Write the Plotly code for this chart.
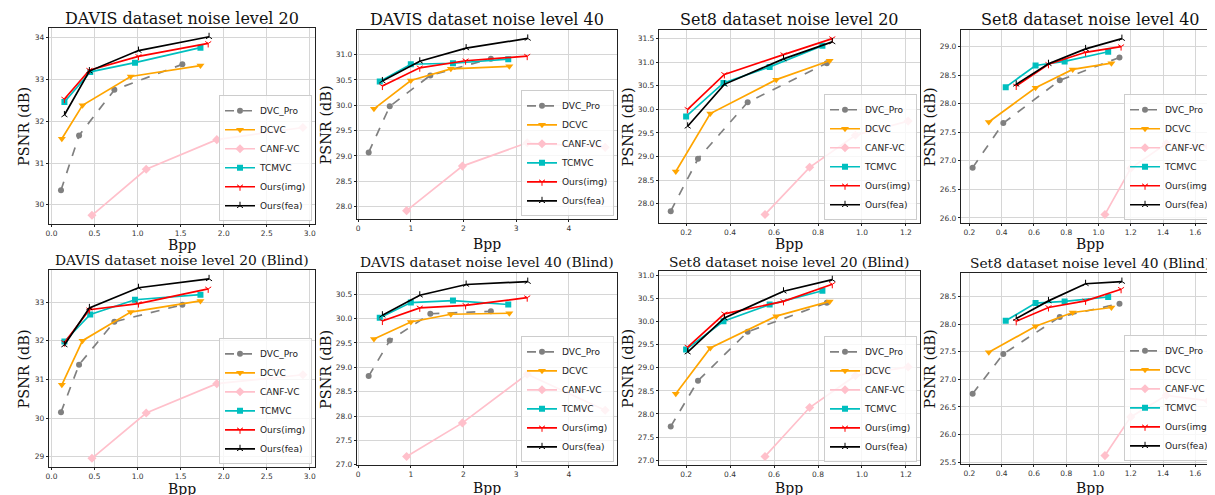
import plotly.graph_objects as go

METHODS = ["DVC_Pro", "DCVC", "CANF-VC", "TCMVC", "Ours(img)", "Ours(fea)"]

# Bpp values, one row per method (order as METHODS)
DAVIS20_BPP = [
    [0.11, 0.32, 0.73, 1.52],
    [0.12, 0.36, 0.92, 1.73],
    [0.47, 1.10, 1.92, 2.92],
    [0.15, 0.45, 0.97, 1.73],
    [0.15, 0.44, 1.01, 1.82],
    [0.15, 0.44, 1.01, 1.83],
]
DAVIS40_BPP = [
    [0.20, 0.60, 1.37, 2.52],
    [0.30, 1.00, 1.76, 2.87],
    [0.92, 1.98, 3.21, 4.69],
    [0.41, 1.00, 1.80, 2.85],
    [0.46, 1.17, 2.04, 3.21],
    [0.46, 1.17, 2.05, 3.22],
]
SET8_20_BPP = [
    [0.13, 0.254, 0.48, 0.84],
    [0.153, 0.31, 0.61, 0.853],
    [0.559, 0.762, 0.97, 1.21],
    [0.20, 0.37, 0.58, 0.82],
    [0.207, 0.374, 0.643, 0.865],
    [0.207, 0.374, 0.643, 0.865],
]
SET8_40_BPP = [
    [0.22, 0.41, 0.76, 1.13],
    [0.32, 0.61, 0.84, 1.08],
    [1.04, 1.20, 1.42, 1.68],
    [0.425, 0.61, 0.79, 1.06],
    [0.49, 0.69, 0.92, 1.14],
    [0.49, 0.69, 0.92, 1.145],
]

# PSNR values, one row per method
DAVIS20_PSNR = [
    [30.35, 31.66, 32.75, 33.36],
    [31.58, 32.38, 33.07, 33.33],
    [29.75, 30.85, 31.56, 31.85],
    [32.46, 33.18, 33.40, 33.76],
    [32.53, 33.22, 33.55, 33.86],
    [32.15, 33.20, 33.69, 34.02],
]
DAVIS40_PSNR = [
    [29.07, 29.98, 30.59, 30.92],
    [29.93, 30.49, 30.72, 30.77],
    [27.92, 28.80, 29.26, 29.17],
    [30.47, 30.81, 30.83, 30.91],
    [30.38, 30.74, 30.88, 30.97],
    [30.48, 30.87, 31.13, 31.32],
]
SET8_20_PSNR = [
    [27.84, 28.95, 30.15, 30.98],
    [28.68, 29.91, 30.63, 31.03],
    [27.77, 28.77, 29.45, 29.75],
    [29.85, 30.56, 30.90, 31.35],
    [30.00, 30.74, 31.16, 31.50],
    [29.64, 30.53, 31.07, 31.43],
]
SET8_40_PSNR = [
    [26.88, 27.66, 28.41, 28.81],
    [27.68, 28.28, 28.60, 28.71],
    [26.06, 26.87, 27.30, 27.25],
    [28.29, 28.67, 28.74, 28.91],
    [28.31, 28.69, 28.90, 29.00],
    [28.34, 28.70, 28.96, 29.14],
]
DAVIS20_BLIND_PSNR = [
    [30.15, 31.38, 32.49, 32.93],
    [30.86, 32.00, 32.74, 33.03],
    [28.96, 30.13, 30.89, 31.12],
    [31.98, 32.68, 33.06, 33.19],
    [31.95, 32.80, 32.96, 33.34],
    [31.89, 32.85, 33.37, 33.60],
]
DAVIS40_BLIND_PSNR = [
    [28.82, 29.55, 30.10, 30.15],
    [29.58, 29.93, 30.09, 30.11],
    [27.17, 27.86, 28.86, 28.12],
    [30.02, 30.33, 30.37, 30.29],
    [29.95, 30.22, 30.27, 30.43],
    [30.07, 30.48, 30.70, 30.76],
]
SET8_20_BLIND_PSNR = [
    [27.73, 28.72, 29.78, 30.41],
    [28.44, 29.43, 30.12, 30.44],
    [27.08, 28.14, 28.83, 29.02],
    [29.40, 30.01, 30.37, 30.67],
    [29.45, 30.17, 30.44, 30.81],
    [29.34, 30.08, 30.66, 30.91],
]
SET8_40_BLIND_PSNR = [
    [26.74, 27.46, 28.13, 28.37],
    [27.49, 27.96, 28.21, 28.30],
    [25.62, 26.32, 26.71, 26.61],
    [28.06, 28.38, 28.41, 28.49],
    [28.05, 28.30, 28.42, 28.63],
    [28.10, 28.42, 28.73, 28.77],
]

TITLES = [
    "DAVIS dataset noise level 20", "DAVIS dataset noise level 40",
    "Set8 dataset noise level 20", "Set8 dataset noise level 40",
    "DAVIS dataset noise level 20 (Blind)", "DAVIS dataset noise level 40 (Blind)",
    "Set8 dataset noise level 20 (Blind)", "Set8 dataset noise level 40 (Blind)",
]

PANELS = [
    (DAVIS20_BPP, DAVIS20_PSNR), (DAVIS40_BPP, DAVIS40_PSNR),
    (SET8_20_BPP, SET8_20_PSNR), (SET8_40_BPP, SET8_40_PSNR),
    (DAVIS20_BPP, DAVIS20_BLIND_PSNR), (DAVIS40_BPP, DAVIS40_BLIND_PSNR),
    (SET8_20_BPP, SET8_20_BLIND_PSNR), (SET8_40_BPP, SET8_40_BLIND_PSNR),
]

# ---- styling ----
W, H = 1215, 495
COLORS = ["#808080", "#FFA500", "#FFC0CB", "#00BFBF", "#FF0000", "#000000"]
SYMBOLS = ["circle", "triangle-down", "diamond", "square", "y-down-open", "y-up-open"]
MSIZE = [6, 7, 7, 6, 5, 5]
DASH = ["dash", "solid", "solid", "solid", "solid", "solid"]

# axes boxes in pixels: left, right, top, bottom
BOXES = [
    (38, 305, 20, 218), (347, 608, 22, 213), (650, 912, 22, 217), (953, 1213, 22, 217),
    (38, 305, 264, 463), (347, 608, 267, 461), (650, 912, 265, 461), (953, 1213, 267, 460),
]
XDTICK = [0.5, 1, 0.2, 0.2, 0.5, 1, 0.2, 0.2]
XFMT = [".1f", "d", ".1f", ".1f", ".1f", "d", ".1f", ".1f"]
YDTICK = [1, 0.5, 0.5, 0.5, 1, 0.5, 0.5, 0.5]
YFMT = ["d", ".1f", ".1f", ".1f", "d", ".1f", ".1f", ".1f"]
TITLE_Y = [11, 12, 12, 12, 254, 256, 256, 257]
TITLE_SIZE = [16, 16, 16, 16, 13.8, 13.8, 13.8, 13.8]
XLABEL_Y = [239, 238, 238, 238, 485, 484, 484, 484]
YLABEL_X = [13, 316, 619, 922, 13, 316, 619, 922]

SERIF = "DejaVu Serif"
SANS = "DejaVu Sans"


def pad_range(vals_2d):
    flat = [v for row in vals_2d for v in row]
    lo, hi = min(flat), max(flat)
    m = 0.05 * (hi - lo)
    return [lo - m, hi + m]


fig = go.Figure()
annotations = []
layout = dict(
    width=W, height=H, margin=dict(l=0, r=0, t=0, b=0),
    paper_bgcolor="white", plot_bgcolor="white",
    font=dict(family=SANS, color="#222"),
)

for k, ((bpp, psnr), title) in enumerate(zip(PANELS, TITLES)):
    idx = "" if k == 0 else str(k + 1)
    xa, ya = "x" + idx, "y" + idx
    leg = "legend" + idx
    l, r, t, b = BOXES[k]
    for m, name in enumerate(METHODS):
        fig.add_trace(go.Scatter(
            x=bpp[m], y=psnr[m], mode="lines+markers", name=name,
            xaxis=xa, yaxis=ya, legend=leg,
            line=dict(color=COLORS[m], width=1.7, dash=DASH[m]),
            marker=dict(symbol=SYMBOLS[m], size=MSIZE[m], color=COLORS[m],
                        line=dict(color=COLORS[m], width=1.0 if m >= 4 else 0)),
        ))
    axis_common = dict(
        showgrid=True, gridcolor="#d6d6d6", gridwidth=0.9,
        showline=True, mirror=True, linecolor="#222", linewidth=1,
        ticks="outside", ticklen=2, tickwidth=0.8, tickcolor="#222",
        tickfont=dict(family=SANS, size=7.5, color="#333"), zeroline=False,
    )
    layout["xaxis" + idx] = dict(
        axis_common, domain=[l / W, r / W], anchor=ya,
        range=pad_range(bpp), dtick=XDTICK[k], tick0=0, tickformat=XFMT[k],
    )
    layout["yaxis" + idx] = dict(
        axis_common, domain=[1 - b / H, 1 - t / H], anchor=xa,
        range=pad_range(psnr), dtick=YDTICK[k], tick0=0, tickformat=YFMT[k],
    )
    layout[leg] = dict(
        x=(r - 3) / W, y=1 - (b - 3) / H, xanchor="right", yanchor="bottom",
        bgcolor="rgba(255,255,255,0.8)", bordercolor="#cccccc", borderwidth=1,
        font=dict(family=SANS, size=9, color="#222"), itemwidth=30,
        tracegroupgap=0,
    )
    cx = (l + r) / 2 / W
    annotations.append(dict(text=title, x=cx, y=1 - TITLE_Y[k] / H, xref="paper", yref="paper",
                            showarrow=False, xanchor="center", yanchor="middle",
                            font=dict(family=SERIF, size=TITLE_SIZE[k], color="#111")))
    annotations.append(dict(text="Bpp", x=cx, y=1 - XLABEL_Y[k] / H, xref="paper", yref="paper",
                            showarrow=False, xanchor="center", yanchor="middle",
                            borderpad=0,
                            font=dict(family=SERIF, size=14, color="#111")))
    annotations.append(dict(text="PSNR (dB)", x=YLABEL_X[k] / W, y=1 - (t + b) / 2 / H,
                            xref="paper", yref="paper", showarrow=False, textangle=-90,
                            xanchor="center", yanchor="middle",
                            font=dict(family=SERIF, size=14.5, color="#111")))

layout["annotations"] = annotations
fig.update_layout(**layout)
fig.write_html("out.html")
